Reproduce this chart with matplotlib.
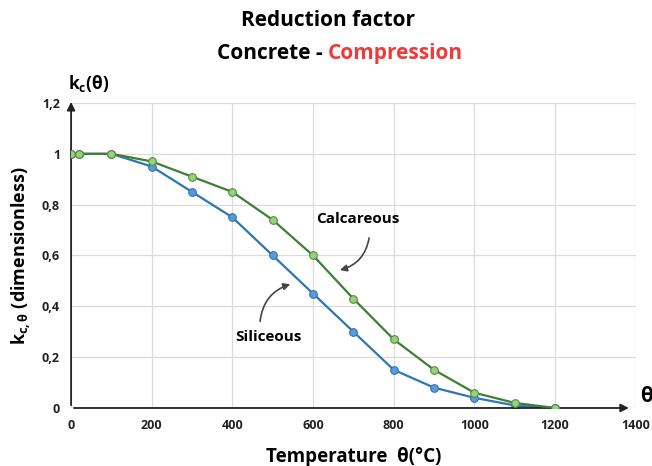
import matplotlib.pyplot as plt
import numpy as np

plt.rcParams['font.family'] = ['Open Sans', 'DejaVu Sans']
plt.rcParams['mathtext.fontset'] = 'custom'
plt.rcParams['mathtext.rm'] = 'Open Sans:bold'
plt.rcParams['mathtext.bf'] = 'Open Sans:bold'
plt.rcParams['mathtext.it'] = 'Open Sans:bold'

# temperature (°C) and reduction factor kc(theta)
temp = [0, 20, 100, 200, 300, 400, 500, 600, 700, 800, 900, 1000, 1100, 1200]
kc_siliceous = [1, 1, 1, 0.95, 0.85, 0.75, 0.60, 0.45, 0.30, 0.15, 0.08, 0.04, 0.01, 0]
kc_calcareous = [1, 1, 1, 0.97, 0.91, 0.85, 0.74, 0.60, 0.43, 0.27, 0.15, 0.06, 0.02, 0]

xticks = [0, 200, 400, 600, 800, 1000, 1200, 1400]
yticks = [0, 0.2, 0.4, 0.6, 0.8, 1.0, 1.2]
ytick_lbl = ['0', '0,2', '0,4', '0,6', '0,8', '1', '1,2']

fig = plt.figure(figsize=(6.52, 4.66), dpi=100)
ax = fig.add_axes([0.109, 0.1245, 0.866, 0.6545])

ax.plot(temp, kc_siliceous, color='#2E75B6', lw=1.6, marker='o', ms=5.5,
        mfc='#5B9BD5', mec='#2E75B6', mew=0.8, zorder=3)
ax.plot(temp, kc_calcareous, color='#3F7F35', lw=1.6, marker='o', ms=5.5,
        mfc='#9BCF7E', mec='#4E8F3C', mew=0.8, zorder=4)

ax.set_xlim(0, 1400)
ax.set_ylim(0, 1.2)
ax.set_xticks(xticks)
ax.set_xticklabels([str(v) for v in xticks], fontsize=9, fontweight='bold')
ax.set_yticks(yticks)
ax.set_yticklabels(ytick_lbl, fontsize=9, fontweight='bold')
ax.tick_params(length=0, pad=8, colors='#222222')
ax.grid(color='#DCDCDC', lw=0.9)
for s in ax.spines.values():
    s.set_visible(False)

# axes with arrows
ax.annotate('', xy=(0, 1.215), xytext=(0, 0), xycoords='data',
            arrowprops=dict(arrowstyle='-|>', color='#222222', lw=1.3, mutation_scale=12),
            annotation_clip=False)
ax.annotate('', xy=(1390, 0), xytext=(0, 0),
            arrowprops=dict(arrowstyle='-|>', color='#222222', lw=1.3, mutation_scale=12),
            annotation_clip=False)

ax.text(1410, 0.045, 'θ', fontsize=15, fontweight='bold', ha='left', va='center')
fig.text(0.104, 0.82, r'$\mathbf{k_c}$(θ)', fontsize=12.5, fontweight='bold', ha='left', va='center')

ax.set_xlabel('Temperature  θ(°C)', fontsize=13.5, fontweight='bold', labelpad=11)
ax.set_ylabel(r'$\mathbf{k_{c,θ}}$ (dimensionless)', fontsize=13, fontweight='bold', labelpad=6)

# titles
fig.text(0.503, 0.955, 'Reduction factor', fontsize=15, fontweight='bold', ha='center', va='center')
fig.text(0.503, 0.885, 'Concrete - ', fontsize=15, fontweight='bold', ha='right', va='center')
fig.text(0.503, 0.885, 'Compression', fontsize=15, fontweight='bold', ha='left', va='center',
         color='#F03A3A')

# labels with curved arrows
ax.text(710, 0.745, 'Calcareous', fontsize=11, fontweight='bold', ha='center', va='center')
ax.annotate('', xy=(660, 0.54), xytext=(740, 0.68),
            arrowprops=dict(arrowstyle='-|>', color='#444444', lw=1.2, mutation_scale=10,
                            connectionstyle='arc3,rad=-0.35'))
ax.text(490, 0.28, 'Siliceous', fontsize=11, fontweight='bold', ha='center', va='center')
ax.annotate('', xy=(550, 0.49), xytext=(468, 0.33),
            arrowprops=dict(arrowstyle='-|>', color='#444444', lw=1.2, mutation_scale=10,
                            connectionstyle='arc3,rad=-0.35'))

plt.savefig('out.png', dpi=100)
